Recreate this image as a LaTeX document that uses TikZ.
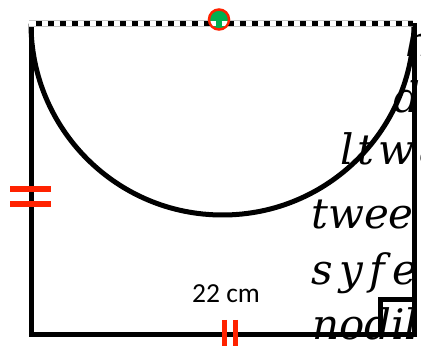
\documentclass[tikz,border=0pt]{standalone}
\usepackage{fontspec}
\newfontfamily\labelfont{Carlito}
\newfontfamily\fragfont{DejaVu Serif}
\definecolor{tickred}{RGB}{255,34,0}
\definecolor{dotgreen}{RGB}{0,176,80}
\begin{document}
\begin{tikzpicture}[x=1pt,y=-1pt,
  edge/.style={line width=5pt, draw=black, line join=miter},
  tickmark/.style={line width=5.5pt, draw=tickred},
  frag/.style={anchor=base west, inner sep=0pt, font=\fragfont\itshape\fontsize{42}{42}\selectfont},
  lenlabel/.style={anchor=base, inner sep=0pt, font=\labelfont\fontsize{27.5}{30}\selectfont}]
\useasboundingbox (0,0) rectangle (421,347);
\coordinate (tl) at (31,23.5);
\coordinate (tr) at (414,23.5);
\coordinate (bl) at (31,335);
\coordinate (br) at (414,335);
\coordinate (dl) at (29,23.5);
\coordinate (dr) at (413,23.5);
\coordinate (ds) at (35.5,23.5);
\coordinate (ws) at (41.5,23.5);
% frame
\draw[edge] (tl) -- (bl) -- (br) -- (tr);
% right-angle mark
\coordinate (ra1) at (380,335);
\coordinate (ra2) at (380,300);
\coordinate (ra3) at (414,300);
\draw[edge] (ra1) -- (ra2) -- (ra3);
% semicircle
\draw[edge] (31,23.5) arc[start angle=180, end angle=0, radius=191.5];
% dashed diameter
\draw[line width=7pt, black!22] (dl) -- (dr);
\draw[line width=5pt, white] (dl) -- (dr);
\draw[line width=5pt, black, dash pattern=on 6pt off 6pt] (ds) -- (dr);
% centre dot
\node[circle, minimum size=20pt, inner sep=0pt, fill=dotgreen, draw=tickred, line width=2.5pt] (mid) at (219,19.5) {};
\begin{scope}
  \clip (mid.center) circle (8.75pt);
  \draw[line width=5pt, white, dash pattern=on 6pt off 6pt] (ws) -- (dr);
\end{scope}
% text fragments
\begin{scope}
  \clip (0,0) rectangle (421,347);
  \node[frag] (t1) at (405,57) {h};
  \node[frag] (t2) at (393,113) {d};
  \node[frag] (t3) at (340,165) {\addfontfeature{LetterSpace=10}ltwa};
  \node[frag] (t4) at (311,229) {twee};
  \node[frag] (t5) at (311,285) {\addfontfeature{LetterSpace=16}syfer};
  \node[frag] (t6) at (312,340) {nodil};
\end{scope}
% equal-length marks
\coordinate (la1) at (10,189);  \coordinate (lb1) at (51,189);
\coordinate (la2) at (10,204);  \coordinate (lb2) at (51,204);
\draw[tickmark] (la1) -- (lb1);
\draw[tickmark] (la2) -- (lb2);
\coordinate (ba1) at (224.7,320); \coordinate (bb1) at (224.7,346);
\coordinate (ba2) at (235.7,320); \coordinate (bb2) at (235.7,346);
\draw[tickmark] (ba1) -- (bb1);
\draw[tickmark] (ba2) -- (bb2);
% length label
\node[lenlabel] (len) at (226,303) {22 cm};
\end{tikzpicture}
\end{document}
